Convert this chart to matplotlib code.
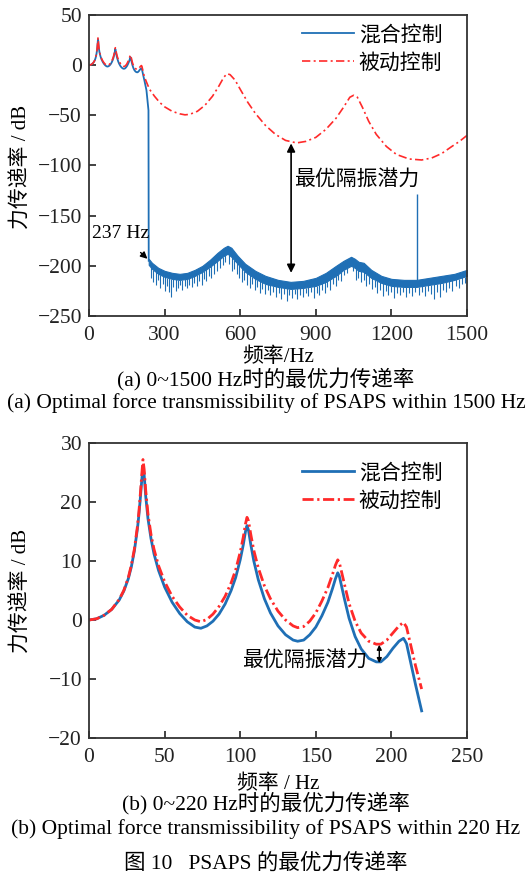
import numpy as np
import matplotlib
matplotlib.use('Agg')
import matplotlib.pyplot as plt

plt.rcParams['font.family'] = ['Liberation Serif', 'Noto Sans CJK SC']
plt.rcParams['axes.unicode_minus'] = True

blueColor = '#1f6fb5'
redColor = '#ff2a2a'

# ---- low frequency part 0~220 Hz (panel b, also start of panel a)
lowFreq = [0, 5, 10, 15, 20, 23, 26, 28, 30, 32, 33, 34, 35, 35.7, 36.5, 37.5, 39, 41, 43, 46,
           50, 55, 60, 65, 70, 74, 78, 82, 86, 90, 94, 97, 100, 102, 103.5, 104.5, 105.5, 107,
           109, 112, 116, 120, 125, 130, 135, 138, 142, 146, 150, 154, 158, 161, 163, 164.5,
           165.5, 167, 169, 172, 176, 180, 185, 190, 193, 197, 201, 205, 208, 210, 213, 216,
           220]
passiveLow = [0, 0.2, 0.8, 1.8, 3.5, 5, 7.2, 9.3, 12, 15.8, 18.3, 21.5, 25, 27.2, 25.5, 22,
              18, 14.5, 12, 9.2, 6.5, 4, 2.2, 0.8, 0, -0.3, 0.1, 1, 2.3, 4, 6.3, 8.5, 11.5, 14,
              16.3, 17.4, 16.8, 14.5, 11.8, 8.8, 5.8, 3.6, 1.5, 0, -1, -1.3, -1.1, -0.2, 1.2,
              3.2, 5.5, 7.7, 9.3, 10.2, 9.8, 8.2, 6, 2.8, -0.2, -2.2, -3.6, -4.1, -4.1, -3.4,
              -2.2, -1, -0.4, -1.2, -4.5, -7.8, -11.7]
hybridLow = [0, 0.2, 0.8, 1.8, 3.4, 4.9, 7, 9, 11.7, 15.4, 17.8, 20.8, 24, 26, 24.5, 21, 17.2,
             13.8, 11.2, 8.4, 5.6, 3, 1.1, -0.3, -1.2, -1.4, -1, -0.2, 1, 2.7, 5, 7.2, 10.2,
             12.7, 15, 16, 15.2, 12.8, 10, 6.8, 3.6, 1.2, -1, -2.5, -3.4, -3.6, -3.4, -2.5,
             -1.2, 0.7, 3, 5.3, 7, 8, 7.5, 5.8, 3.5, 0.3, -2.8, -4.9, -6.5, -7.1, -7.1, -6.2,
             -4.8, -3.6, -3.1, -4, -7.5, -11, -15.4]

# ---- passive control above 220 Hz (panel a)
passiveHighFreq = [230, 240, 260, 280, 300, 330, 360, 381, 400, 430, 460, 490, 515, 535, 548,
                   560, 580, 600, 630, 660, 700, 740, 780, 824, 860, 900, 940, 980, 1010, 1035,
                   1050, 1065, 1085, 1110, 1140, 1180, 1220, 1270, 1320, 1360, 1400, 1440,
                   1470, 1500]
passiveHigh = [-18, -24, -31, -37, -41.5, -46, -48.5, -49.5, -49, -46, -40, -31, -21, -12,
               -8.5, -9.5, -15, -24, -37, -48, -60, -69, -75, -77.5, -76, -72, -64, -53, -42,
               -32, -30, -32, -42, -56, -69, -81, -89, -93.5, -94.5, -92.5, -88, -81, -76, -70]

# ---- hybrid control: drop at 237 Hz then noisy band
hybridDropFreq = [228, 234, 236, 237]
hybridDrop = [-25, -40, -45, -195]
bandFreq = [237, 250, 275, 300, 330, 360, 390, 420, 450, 480, 510, 535, 550, 565, 590, 620,
            660, 700, 750, 800, 850, 900, 940, 980, 1010, 1040, 1055, 1070, 1090, 1120, 1160,
            1200, 1250, 1300, 1350, 1400, 1450, 1500]
bandTop = [-193, -197, -202, -205, -207, -208, -207, -204, -200, -194, -187, -182, -180, -182,
           -190, -198, -205, -210, -214, -216, -215, -212, -207, -200, -195, -191, -193, -196,
           -197, -204, -210, -213, -214, -214, -212, -210, -208, -204]
bandBottom = [-199, -203, -208, -211, -213, -214, -213, -210, -206, -201, -195, -190, -188,
              -191, -198, -206, -213, -218, -221, -223, -222, -220, -216, -210, -204, -200,
              -202, -205, -206, -212, -217, -220, -221, -221, -219, -217, -214, -210]
spikeFreq = [245, 255, 265, 272, 283, 292, 300, 310, 318, 326, 335, 344, 352, 362, 371, 380,
             390, 398, 408, 418, 428, 437, 447, 456, 466, 476, 486, 497, 507, 518, 530, 541,
             556, 566, 576, 586, 596, 606, 616, 626, 637, 647, 657, 668, 678, 688, 698, 710,
             720, 731, 742, 752, 762, 773, 784, 795, 806, 816, 827, 838, 849, 860, 870, 881,
             892, 903, 913, 924, 935, 946, 957, 968, 979, 990, 1001, 1012, 1025, 1046, 1058,
             1068, 1078, 1090, 1100, 1111, 1122, 1133, 1144, 1155, 1166, 1177, 1188, 1199,
             1210, 1222, 1233, 1245, 1256, 1268, 1280, 1292, 1310, 1322, 1334, 1346, 1358,
             1370, 1382, 1394, 1406, 1418, 1430, 1442, 1455, 1467, 1480, 1492]
spikeLow = [-212, -216, -219, -214, -222, -218, -225, -220, -226, -231, -221, -225, -222, -219,
            -224, -220, -222, -219, -221, -217, -220, -215, -219, -213, -215, -210, -212, -208,
            -205, -202, -199, -196, -198, -205, -203, -208, -212, -216, -214, -219, -222, -218,
            -224, -221, -227, -223, -228, -224, -229, -226, -231, -227, -233, -228, -235, -229,
            -232, -228, -233, -229, -231, -227, -230, -226, -232, -227, -229, -224, -227, -221,
            -224, -218, -220, -214, -215, -209, -207, -205, -214, -212, -216, -214, -220, -218,
            -223, -221, -227, -224, -230, -225, -229, -226, -232, -227, -229, -226, -231, -227,
            -230, -226, -229, -226, -230, -225, -228, -233, -226, -231, -224, -226, -222, -225,
            -220, -222, -218, -217]
bigSpikeFreq = 1300
bigSpikeTop = -128

fig = plt.figure(figsize=(5.32, 8.74), dpi=100)
axA = fig.add_axes([89/532, 1-316/874, 378/532, 301/874])
axB = fig.add_axes([89/532, 1-738/874, 378/532, 295/874])

# panel a
axA.plot(lowFreq + hybridDropFreq, hybridLow + hybridDrop, color=blueColor, lw=1.3,
         label='混合控制')
axA.fill_between(bandFreq, bandBottom, bandTop, color=blueColor, lw=0.8)
spikeTop = np.interp(spikeFreq, bandFreq, bandBottom)
axA.vlines(spikeFreq, spikeLow, spikeTop, color=blueColor, lw=0.8)
axA.vlines([bigSpikeFreq], [np.interp(bigSpikeFreq, bandFreq, bandTop)], [bigSpikeTop],
           color=blueColor, lw=1.0)
axA.plot(lowFreq + passiveHighFreq, passiveLow + passiveHigh, color=redColor, lw=1.2,
         linestyle=(0, (5, 2, 1.2, 2)), label='被动控制')
axA.set_xlim(0, 1500)
axA.set_ylim(-250, 50)
axA.set_xticks(np.arange(0, 1501, 300))
axA.set_yticks(np.arange(-250, 51, 50))
axA.set_xlabel('频率/Hz')
axA.set_ylabel('力传递率 / dB')
axA.xaxis.set_label_coords(0.5, -0.105)
axA.yaxis.set_label_coords(-0.155, 0.495)
axA.annotate('', xy=(802, -207), xytext=(802, -78),
             arrowprops=dict(arrowstyle='<|-|>', color='black', lw=1.2,
                             mutation_scale=12, shrinkA=0, shrinkB=0))
axA.text(812, -114, '最优隔振潜力', fontsize=15, va='center', ha='left')
axA.annotate('237 Hz', xy=(232, -193), xytext=(10, -168),
             fontsize=14, va='center', ha='left',
             arrowprops=dict(arrowstyle='-|>', color='black', lw=1.0,
                             mutation_scale=10, shrinkA=8, shrinkB=0))
axA.legend(loc='upper left', bbox_to_anchor=(0.537, 1.0), frameon=False,
           handlelength=2.5, handletextpad=0.2, labelspacing=0.4, borderpad=0,
           fontsize=15)

# panel b
axB.plot(lowFreq, hybridLow, color=blueColor, lw=2.0, label='混合控制')
axB.plot(lowFreq, passiveLow, color=redColor, lw=2.0,
         linestyle=(0, (4, 1.3, 0.8, 1.3)), label='被动控制')
axB.set_xlim(0, 250)
axB.set_ylim(-20, 30)
axB.set_xticks(np.arange(0, 251, 50))
axB.set_yticks(np.arange(-20, 31, 10))
axB.set_xlabel('频率 / Hz')
axB.set_ylabel('力传递率 / dB')
axB.xaxis.set_label_coords(0.5, -0.125)
axB.yaxis.set_label_coords(-0.155, 0.5)
axB.annotate('', xy=(192, -7.3), xytext=(192, -4.2),
             arrowprops=dict(arrowstyle='<|-|>', color='black', lw=1.0,
                             mutation_scale=7, shrinkA=0, shrinkB=0))
axB.text(184, -6.9, '最优隔振潜力', fontsize=15, va='center', ha='right')
axB.legend(loc='upper left', bbox_to_anchor=(0.537, 0.965), frameon=False,
           handlelength=2.5, handletextpad=0.2, labelspacing=0.4, borderpad=0,
           fontsize=15)

for ax in [axA, axB]:
    ax.tick_params(direction='in', labelsize=15.5, length=5, width=1.2, colors='#222222')
    ax.tick_params(axis='x', pad=7)
    ax.tick_params(axis='y', pad=5)
    for sp in ax.spines.values():
        sp.set_color('#333333')
        sp.set_linewidth(1.3)
    ax.xaxis.label.set_size(15)
    ax.yaxis.label.set_size(15)

fig.text(0.5, 1-380/874, '(a) 0~1500 Hz时的最优力传递率', ha='center', va='center', fontsize=15.5)
fig.text(0.5, 1-403/874, '(a) Optimal force transmissibility of PSAPS within 1500 Hz',
         ha='center', va='center', fontsize=15.5)
fig.text(0.5, 1-804/874, '(b) 0~220 Hz时的最优力传递率', ha='center', va='center', fontsize=15.5)
fig.text(0.5, 1-829/874, '(b) Optimal force transmissibility of PSAPS within 220 Hz',
         ha='center', va='center', fontsize=15.5)
fig.text(0.5, 1-863/874, '图 10   PSAPS 的最优力传递率', ha='center', va='center', fontsize=15.5)

fig.savefig('out.png', dpi=100)
